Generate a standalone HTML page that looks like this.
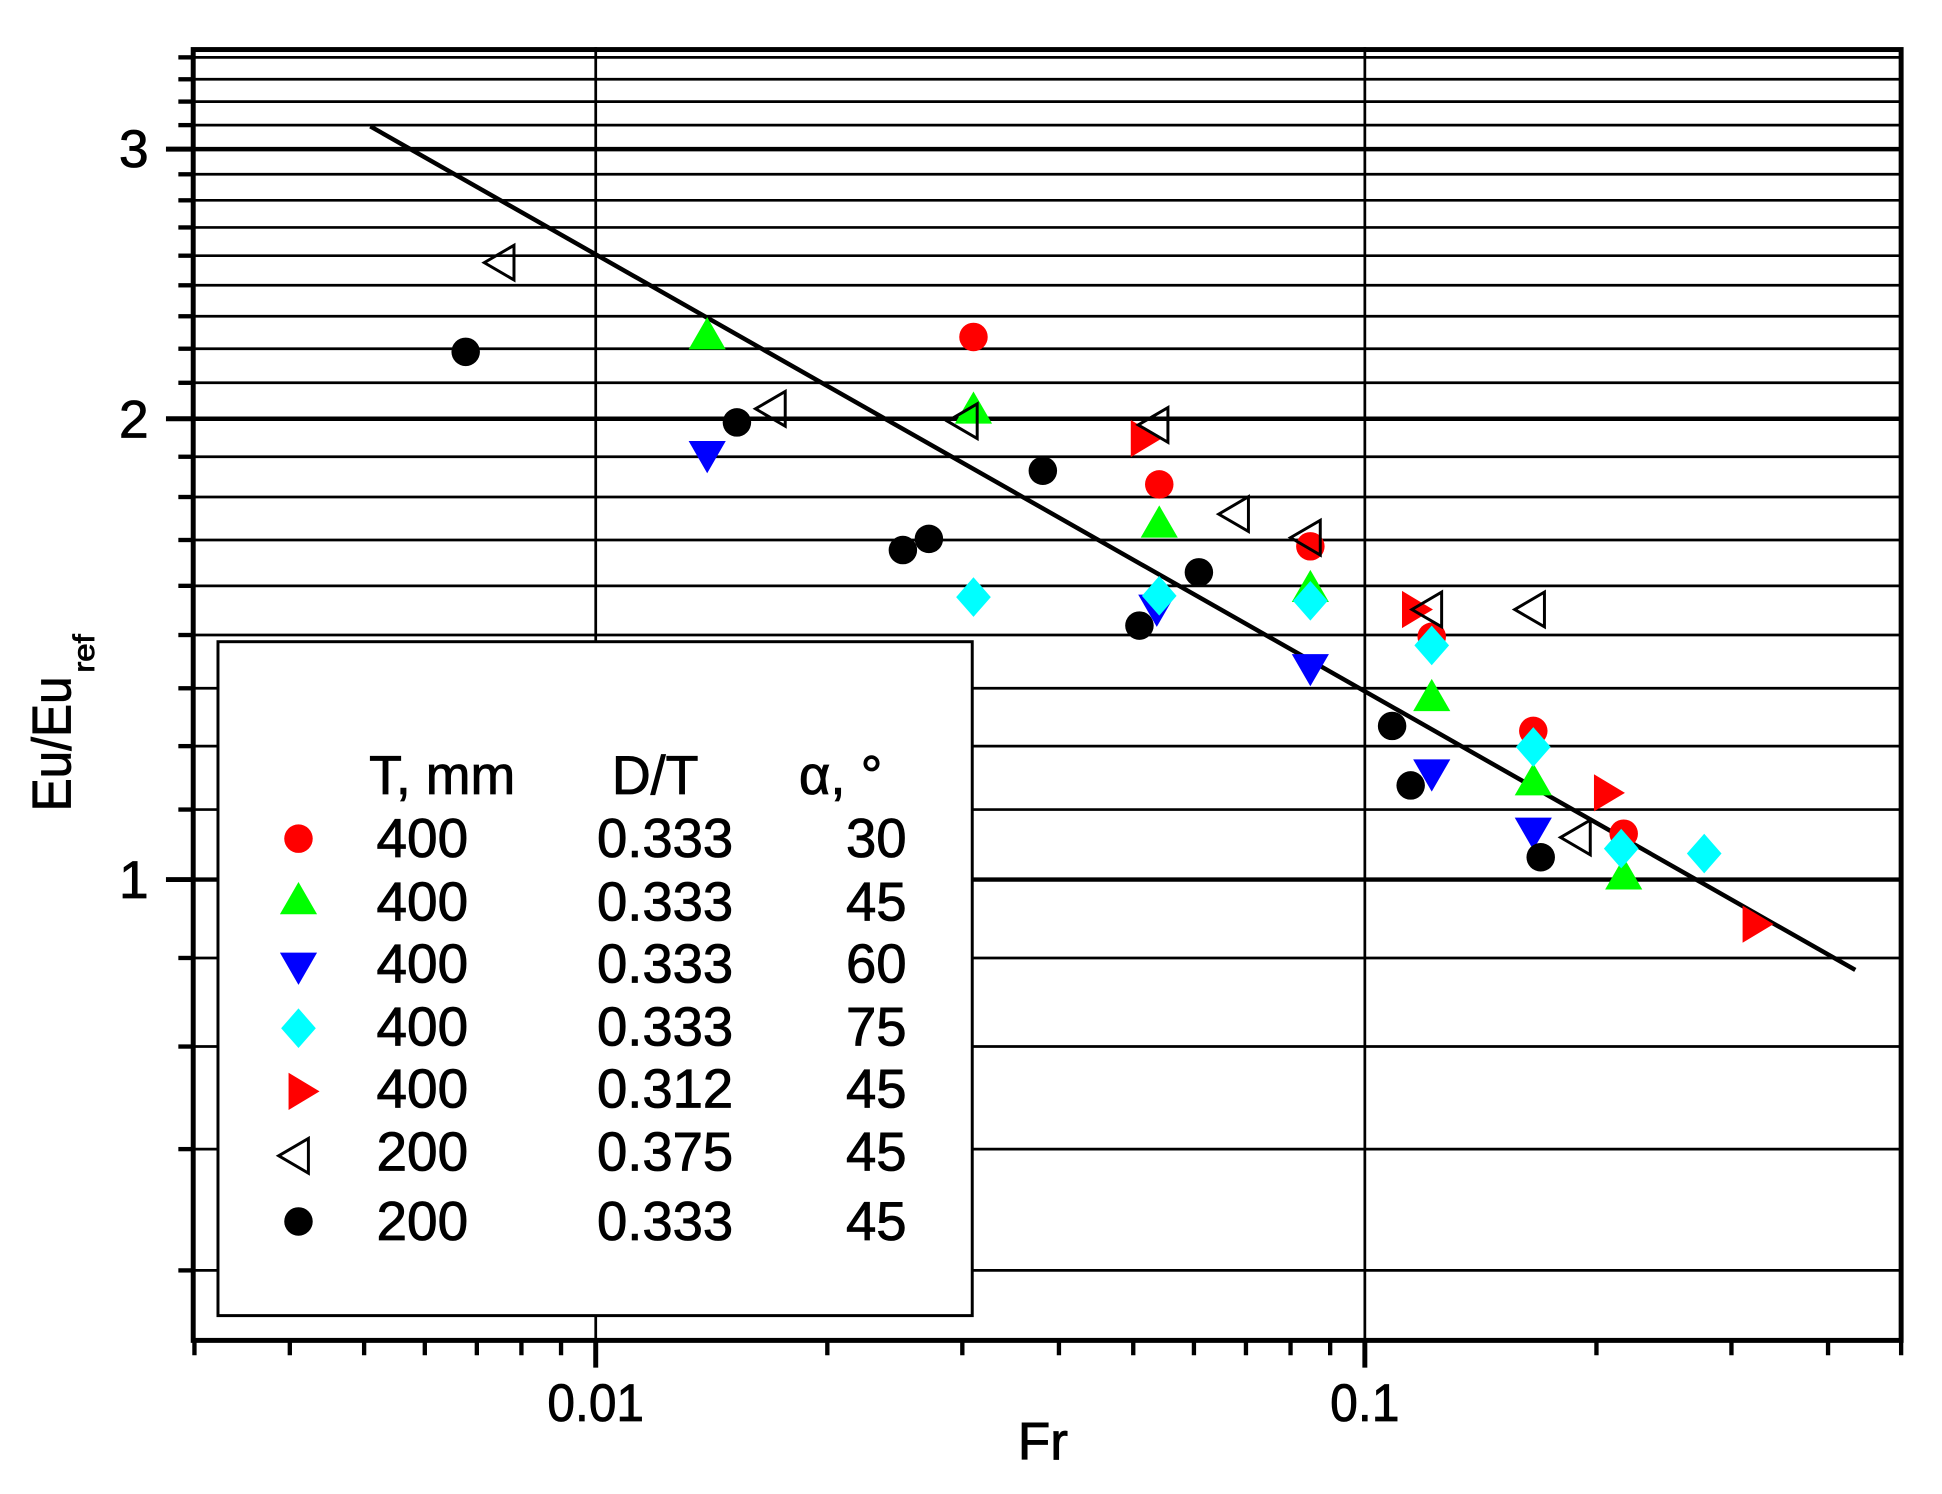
<!DOCTYPE html>
<html><head><meta charset="utf-8"><style>
html,body{margin:0;padding:0;background:#fff;}
svg{display:block;}
text{font-family:"Liberation Sans",Arial,sans-serif;fill:#000;stroke:#000;stroke-width:0.7;}
</style></head><body>
<svg width="1942" height="1494" viewBox="0 0 1568 1206" preserveAspectRatio="none" xmlns="http://www.w3.org/2000/svg">
<rect width="1568" height="1206" fill="#fff"/>
<g stroke="#000" stroke-width="2.2">
<line x1="156" x2="1535" y1="46.3" y2="46.3"/>
<line x1="156" x2="1535" y1="64" y2="64"/>
<line x1="156" x2="1535" y1="82" y2="82"/>
<line x1="156" x2="1535" y1="101" y2="101"/>
<line x1="156" x2="1535" y1="140.7" y2="140.7"/>
<line x1="156" x2="1535" y1="161.7" y2="161.7"/>
<line x1="156" x2="1535" y1="183.6" y2="183.6"/>
<line x1="156" x2="1535" y1="206.4" y2="206.4"/>
<line x1="156" x2="1535" y1="230.3" y2="230.3"/>
<line x1="156" x2="1535" y1="255.3" y2="255.3"/>
<line x1="156" x2="1535" y1="281.5" y2="281.5"/>
<line x1="156" x2="1535" y1="309" y2="309"/>
<line x1="156" x2="1535" y1="368.7" y2="368.7"/>
<line x1="156" x2="1535" y1="401.2" y2="401.2"/>
<line x1="156" x2="1535" y1="435.9" y2="435.9"/>
<line x1="156" x2="1535" y1="472.9" y2="472.9"/>
<line x1="156" x2="1535" y1="512.6" y2="512.6"/>
<line x1="156" x2="1535" y1="555.6" y2="555.6"/>
<line x1="156" x2="1535" y1="602.3" y2="602.3"/>
<line x1="156" x2="1535" y1="653.5" y2="653.5"/>
<line x1="156" x2="1535" y1="773.3" y2="773.3"/>
<line x1="156" x2="1535" y1="844.8" y2="844.8"/>
<line x1="156" x2="1535" y1="927.6" y2="927.6"/>
<line x1="156" x2="1535" y1="1025.5" y2="1025.5"/>
<line x1="481" x2="481" y1="38" y2="1082"/>
<line x1="1102" x2="1102" y1="38" y2="1082"/>
</g>
<g stroke="#000" stroke-width="3.6">
<line x1="156" x2="1535" y1="120.4" y2="120.4"/>
<line x1="156" x2="1535" y1="338" y2="338"/>
<line x1="156" x2="1535" y1="710" y2="710"/>
</g>
<line x1="299" y1="102" x2="1498" y2="783" stroke="#000" stroke-width="3.6"/>
<rect x="176" y="518" width="609" height="544" fill="#fff" stroke="#000" stroke-width="2.4"/>
<rect x="156" y="40" width="1379" height="1042" fill="none" stroke="#000" stroke-width="4"/>
<g stroke="#000" stroke-width="3.5">
<line x1="144" x2="156" y1="46.3" y2="46.3"/><line x1="144" x2="156" y1="64" y2="64"/><line x1="144" x2="156" y1="82" y2="82"/><line x1="144" x2="156" y1="101" y2="101"/>
<line x1="144" x2="156" y1="140.7" y2="140.7"/><line x1="144" x2="156" y1="161.7" y2="161.7"/><line x1="144" x2="156" y1="183.6" y2="183.6"/><line x1="144" x2="156" y1="206.4" y2="206.4"/><line x1="144" x2="156" y1="230.3" y2="230.3"/><line x1="144" x2="156" y1="255.3" y2="255.3"/><line x1="144" x2="156" y1="281.5" y2="281.5"/><line x1="144" x2="156" y1="309" y2="309"/>
<line x1="144" x2="156" y1="368.7" y2="368.7"/><line x1="144" x2="156" y1="401.2" y2="401.2"/><line x1="144" x2="156" y1="435.9" y2="435.9"/><line x1="144" x2="156" y1="472.9" y2="472.9"/><line x1="144" x2="156" y1="512.6" y2="512.6"/><line x1="144" x2="156" y1="555.6" y2="555.6"/><line x1="144" x2="156" y1="602.3" y2="602.3"/><line x1="144" x2="156" y1="653.5" y2="653.5"/>
<line x1="144" x2="156" y1="773.3" y2="773.3"/><line x1="144" x2="156" y1="844.8" y2="844.8"/><line x1="144" x2="156" y1="927.6" y2="927.6"/><line x1="144" x2="156" y1="1025.5" y2="1025.5"/>
<line x1="134" x2="156" y1="120.4" y2="120.4" stroke-width="4"/><line x1="134" x2="156" y1="338" y2="338" stroke-width="4"/><line x1="134" x2="156" y1="710" y2="710" stroke-width="4"/>
</g>
<g stroke="#000" stroke-width="3.5">
<line x1="157" x2="157" y1="1082" y2="1094"/>
<line x1="234" x2="234" y1="1082" y2="1094"/><line x1="294" x2="294" y1="1082" y2="1094"/><line x1="343" x2="343" y1="1082" y2="1094"/><line x1="385" x2="385" y1="1082" y2="1094"/><line x1="421" x2="421" y1="1082" y2="1094"/><line x1="453" x2="453" y1="1082" y2="1094"/>
<line x1="668" x2="668" y1="1082" y2="1094"/><line x1="777" x2="777" y1="1082" y2="1094"/><line x1="855" x2="855" y1="1082" y2="1094"/><line x1="915" x2="915" y1="1082" y2="1094"/><line x1="964" x2="964" y1="1082" y2="1094"/><line x1="1006" x2="1006" y1="1082" y2="1094"/><line x1="1042" x2="1042" y1="1082" y2="1094"/><line x1="1074" x2="1074" y1="1082" y2="1094"/>
<line x1="1289" x2="1289" y1="1082" y2="1094"/><line x1="1398" x2="1398" y1="1082" y2="1094"/><line x1="1476" x2="1476" y1="1082" y2="1094"/><line x1="1535" x2="1535" y1="1082" y2="1094"/>
<line x1="481" x2="481" y1="1082" y2="1104" stroke-width="4"/><line x1="1102" x2="1102" y1="1082" y2="1104" stroke-width="4"/>
</g>
<g font-size="43">
<text x="108" y="135" text-anchor="middle">3</text>
<text x="108" y="353" text-anchor="middle">2</text>
<text x="108" y="725" text-anchor="middle">1</text>
<text x="481" y="1147" text-anchor="middle" textLength="78" lengthAdjust="spacingAndGlyphs">0.01</text>
<text x="1102" y="1147" text-anchor="middle" textLength="56" lengthAdjust="spacingAndGlyphs">0.1</text>
<text x="842" y="1178" text-anchor="middle">Fr</text>
</g>
<text transform="translate(57,655) rotate(-90)" font-size="44" textLength="109" lengthAdjust="spacingAndGlyphs">Eu/Eu</text>
<text transform="translate(76,543) rotate(-90)" font-size="24" stroke-width="0.4" textLength="31" lengthAdjust="spacingAndGlyphs">ref</text>
<g font-size="44">
<text x="298" y="641" textLength="118" lengthAdjust="spacingAndGlyphs">T, mm</text>
<text x="494" y="641" textLength="70" lengthAdjust="spacingAndGlyphs">D/T</text>
<text x="645" y="641">α, °</text>
<text x="304" y="692" textLength="74" lengthAdjust="spacingAndGlyphs">400</text><text x="482" y="692" textLength="110" lengthAdjust="spacingAndGlyphs">0.333</text><text x="732" y="692" text-anchor="end">30</text>
<text x="304" y="743" textLength="74" lengthAdjust="spacingAndGlyphs">400</text><text x="482" y="743" textLength="110" lengthAdjust="spacingAndGlyphs">0.333</text><text x="732" y="743" text-anchor="end">45</text>
<text x="304" y="793" textLength="74" lengthAdjust="spacingAndGlyphs">400</text><text x="482" y="793" textLength="110" lengthAdjust="spacingAndGlyphs">0.333</text><text x="732" y="793" text-anchor="end">60</text>
<text x="304" y="844" textLength="74" lengthAdjust="spacingAndGlyphs">400</text><text x="482" y="844" textLength="110" lengthAdjust="spacingAndGlyphs">0.333</text><text x="732" y="844" text-anchor="end">75</text>
<text x="304" y="894" textLength="74" lengthAdjust="spacingAndGlyphs">400</text><text x="482" y="894" textLength="110" lengthAdjust="spacingAndGlyphs">0.312</text><text x="732" y="894" text-anchor="end">45</text>
<text x="304" y="945" textLength="74" lengthAdjust="spacingAndGlyphs">200</text><text x="482" y="945" textLength="110" lengthAdjust="spacingAndGlyphs">0.375</text><text x="732" y="945" text-anchor="end">45</text>
<text x="304" y="1001" textLength="74" lengthAdjust="spacingAndGlyphs">200</text><text x="482" y="1001" textLength="110" lengthAdjust="spacingAndGlyphs">0.333</text><text x="732" y="1001" text-anchor="end">45</text>
</g>
<defs>
<circle id="c" r="11.5"/>
<path id="tu" d="M0,-14 L15,12 L-15,12 Z"/>
<path id="td" d="M0,14 L15,-12 L-15,-12 Z"/>
<path id="dm" d="M0,-16 L14,0 L0,16 L-14,0 Z"/>
<path id="tr" d="M14,0 L-11,-15 L-11,15 Z"/>
<path id="tl" d="M-13,0 L11,-14 L11,14 Z"/>
</defs>
<use href="#c" x="241" y="677" fill="#f00"/>
<use href="#tu" x="241" y="726" fill="#0f0"/>
<use href="#td" x="241" y="781" fill="#00f"/>
<use href="#dm" x="241" y="830" fill="#0ff"/>
<use href="#tr" x="244" y="881" fill="#f00"/>
<use href="#tl" x="238" y="933" fill="none" stroke="#000" stroke-width="2.4"/>
<use href="#c" x="241" y="986" fill="#000"/>
<g fill="#f00">
<use href="#c" x="786" y="272"/><use href="#c" x="936" y="391"/><use href="#c" x="1058" y="441"/><use href="#c" x="1156" y="514"/><use href="#c" x="1238" y="590"/><use href="#c" x="1311" y="673"/>
</g>
<g fill="#0f0">
<use href="#tu" x="571" y="270"/><use href="#tu" x="786" y="330"/><use href="#tu" x="936" y="422"/><use href="#tu" x="1058" y="474"/><use href="#tu" x="1156" y="562"/><use href="#tu" x="1238" y="630"/><use href="#tu" x="1311" y="706"/>
</g>
<g fill="#00f">
<use href="#td" x="571" y="368"/><use href="#td" x="934" y="492"/><use href="#td" x="1058" y="540"/><use href="#td" x="1156" y="625"/><use href="#td" x="1238" y="672"/>
</g>
<g fill="#0ff">
<use href="#dm" x="786" y="482"/><use href="#dm" x="936" y="481"/><use href="#dm" x="1058" y="485"/><use href="#dm" x="1156" y="521"/><use href="#dm" x="1238" y="603"/><use href="#dm" x="1309" y="685"/><use href="#dm" x="1376" y="689"/>
</g>
<g fill="#f00">
<use href="#tr" x="924" y="354"/><use href="#tr" x="1143" y="492"/><use href="#tr" x="1298" y="640"/><use href="#tr" x="1418" y="746"/>
</g>
<g fill="none" stroke="#000" stroke-width="2.4">
<use href="#tl" x="404" y="212"/><use href="#tl" x="623" y="330"/><use href="#tl" x="778" y="340"/><use href="#tl" x="932" y="343"/><use href="#tl" x="997" y="415"/><use href="#tl" x="1055" y="434"/><use href="#tl" x="1153" y="492"/><use href="#tl" x="1236" y="492"/><use href="#tl" x="1273" y="676"/>
</g>
<g fill="#000">
<use href="#c" x="376" y="284"/><use href="#c" x="595" y="341"/><use href="#c" x="729" y="444"/><use href="#c" x="750" y="435"/><use href="#c" x="842" y="380"/><use href="#c" x="920" y="505"/><use href="#c" x="968" y="462"/><use href="#c" x="1124" y="586"/><use href="#c" x="1139" y="634"/><use href="#c" x="1244" y="692"/>
</g>
</svg>
</body></html>
